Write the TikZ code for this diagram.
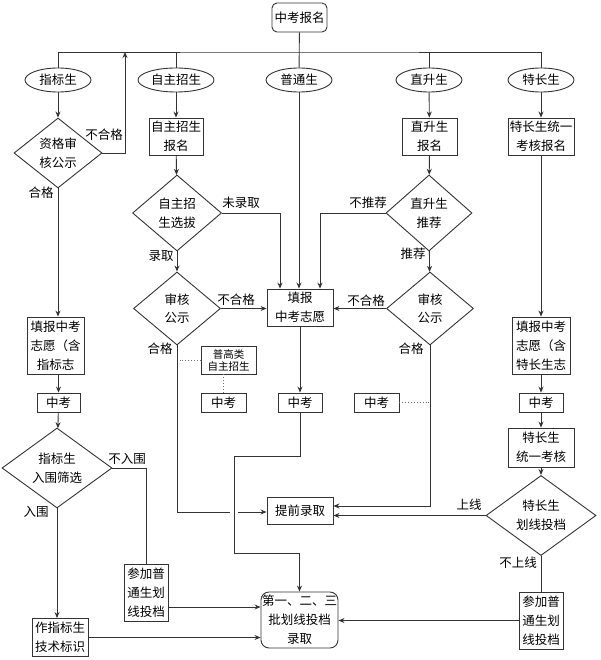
\documentclass[tikz,border=0pt]{standalone}
\usepackage{fontspec}
\setmainfont{Noto Sans CJK SC}
\usetikzlibrary{arrows.meta, positioning, calc, shapes.geometric}
\usepackage{xcolor}
\definecolor{ink}{HTML}{333333}

\begin{document}
\begin{tikzpicture}[
    x=1pt, y=-1pt,
    >={Stealth[length=6pt, width=5pt]},
    wh/.style 2 args={minimum width=#1pt, minimum height=#2pt},
    box/.style={draw=ink, line width=0.9pt, inner sep=0pt, align=center,
                font=\fontsize{12.5}{19}\selectfont},
    start/.style={box, rounded corners=5pt},
    small/.style={box, font=\fontsize{10.5}{12}\selectfont},
    kind/.style={draw=ink, line width=0.9pt, ellipse, inner sep=0pt,
                 font=\fontsize{12.5}{15}\selectfont},
    check/.style={draw=ink, line width=0.9pt, diamond, inner sep=0pt, align=center,
                  font=\fontsize{12.5}{18.5}\selectfont},
    arrow/.style={->, line width=0.9pt, color=ink},
    link/.style={line width=0.9pt, color=ink},
    hint/.style={dotted, line width=0.9pt, color=ink!70},
    note/.style={font=\fontsize{12.5}{15}\selectfont},
]
    \useasboundingbox (0,0) rectangle (600,660);

    \node[start, wh={55}{29}] (apply) at (299.5,17.5) {中考报名};

    % Kinds of students
    \node[kind, wh={66}{24}] (quota) at (58,80) {指标生};
    \node[kind, wh={76}{24}] (self) at (176,80) {自主招生};
    \node[kind, wh={66}{24}] (normal) at (299,80) {普通生};
    \node[kind, wh={66}{24}] (direct) at (429,80) {直升生};
    \node[kind, wh={66}{24}] (talent) at (541,80) {特长生};

    \coordinate (bar) at (299,52);
    \coordinate (ret) at (125,52);
    \draw[link] (apply) -- (normal);
    \draw[link] (quota.north) |- (bar) -| (talent.north);
    \draw[link] (self.north) -- (self.north |- bar);
    \draw[link] (direct.north) -- (direct.north |- bar);

    % Quota column
    \node[check, wh={88}{70}] (qcheck) at (58,153) {资格审\\核公示};
    \node[box, wh={57}{57}] (qwish) at (55.5,345.5) {填报中考\\志愿（含\\指标志};
    \node[box, wh={43}{19}] (qexam) at (58.5,402.5) {中考};
    \node[check, wh={110}{76}] (qpick) at (57,468) {指标生\\入围筛选};
    \node[box, wh={44}{57}] (qjoin) at (146,593) {参加普\\通生划\\线投档};
    \node[box, wh={56}{38}] (qmark) at (60,637.5) {作指标生\\技术标识};

    % Self-enrolment column
    \node[box, wh={54}{37}] (sapply) at (176,136.5) {自主招生\\报名};
    \node[check, wh={89}{76}] (spick) at (177,213) {自主招\\生选拔};
    \node[check, wh={87}{73}] (scheck) at (177,308.5) {审核\\公示};
    \node[small, wh={55}{28}] (sclass) at (228.5,360) {普高类\\自主招生};
    \node[box, wh={45}{19}] (sexam) at (223.5,402.5) {中考};

    % Normal column
    \node[box, wh={66}{37}] (wish) at (300,307.5) {填报\\中考志愿};
    \node[box, wh={44}{19}] (exam) at (300,402.5) {中考};
    \node[box, wh={66}{27}] (early) at (300,510.5) {提前录取};
    \node[box, rounded corners=8pt, wh={77}{56}] (final) at (299.5,620) {第一、二、三\\批划线投档\\录取};

    % Direct column
    \node[box, wh={55}{37}] (dapply) at (429.5,136.5) {直升生\\报名};
    \node[check, wh={86}{76}] (dpick) at (429,213) {直升生\\推荐};
    \node[check, wh={87}{73}] (dcheck) at (430,308.5) {审核\\公示};
    \node[box, wh={45}{19}] (dexam) at (376.5,402.5) {中考};

    % Talent column
    \node[box, wh={66}{37}] (tapply) at (541,136.5) {特长生统一\\考核报名};
    \node[box, wh={58}{57}] (twish) at (541,345.5) {填报中考\\志愿（含\\特长生志};
    \node[box, wh={44}{19}] (texam) at (541,402.5) {中考};
    \node[box, wh={66}{39}] (ttest) at (541,447.5) {特长生\\统一考核};
    \node[check, wh={110}{75}] (tline) at (541,515.5) {特长生\\划线投档};
    \node[box, wh={44}{57}] (tjoin) at (541,620.5) {参加普\\通生划\\线投档};

    % Quota connectors
    \draw[arrow] (quota) -- (qcheck);
    \draw[arrow] (qcheck.east) -| (ret);
    \draw[arrow] (qcheck.south) -- (qcheck.south |- qwish.north);
    \draw[arrow] (qwish.south -| qexam) -- (qexam);
    \draw[arrow] (qexam) -- (qpick);
    \draw[link] (qpick.east) -| (qjoin.north);
    \draw[arrow] (qpick.south) -- (qpick.south |- qmark.north);
    \draw[arrow] (qmark.east) -- (qmark.east -| final.west);
    \coordinate (qout) at ($(qjoin.east)+(0,14)$);
    \draw[arrow] (qout) -- (qout -| final.west);

    % Self-enrolment connectors
    \draw[arrow] (self) -- (sapply);
    \draw[arrow] (sapply) -- (spick);
    \draw[arrow] (spick.east) -| ([xshift=-20pt]wish.north);
    \draw[arrow] (spick) -- (scheck);
    \draw[arrow] (scheck.east) -- (wish.west |- scheck.east);
    \coordinate (gapl) at (230,512);
    \coordinate (gapr) at (238,512);
    \draw[link] (scheck.south) |- (gapl);
    \draw[arrow] (gapr) -- (early.west |- gapr);
    \draw[hint] (sclass.west) -- ([xshift=3pt]sclass.west -| scheck.south);
    \draw[hint] (sexam.north) -- (sexam.north |- sclass.south);

    % Normal connectors
    \draw[arrow] (normal) -- (normal |- wish.north);
    \draw[arrow] (wish) -- (exam);
    \coordinate (j1) at (234,456);
    \coordinate (j2) at (234,553);
    \draw[arrow] (exam.south) |- (j1) -- (j2) -| (final.north);

    % Direct connectors
    \draw[arrow] (direct) -- (dapply);
    \draw[arrow] (dapply) -- (dpick);
    \draw[arrow] (dpick.west) -| ([xshift=20pt]wish.north);
    \draw[arrow] (dpick) -- (dcheck);
    \draw[arrow] (dcheck.west) -- (wish.east |- dcheck.west);
    \draw[arrow] (dcheck.south) |- ([yshift=4.5pt]early.east);
    \draw[hint] (dexam.east) -- (dexam.east -| dcheck.south);

    % Talent connectors
    \draw[arrow] (talent) -- (tapply);
    \draw[arrow] (tapply) -- (twish);
    \draw[arrow] (twish) -- (texam);
    \draw[arrow] (texam) -- (ttest);
    \draw[arrow] (ttest) -- (tline);
    \draw[arrow] (tline.west) -- (tline.west -| early.east);
    \draw[link] (tline.south) -- (tjoin.north);
    \draw[arrow] (tjoin.west) -- (tjoin.west -| final.east);

    % Labels
    \node[note] (n1) at (104,135) {不合格};
    \node[note] (n2) at (41,193) {合格};
    \node[note] (n3) at (127,459) {不入围};
    \node[note] (n4) at (36,512) {入围};
    \node[note] (n5) at (241,203) {未录取};
    \node[note] (n6) at (161,256) {录取};
    \node[note] (n7) at (236,300) {不合格};
    \node[note] (n8) at (160,349) {合格};
    \node[note] (n9) at (368,203) {不推荐};
    \node[note] (n10) at (413,254) {推荐};
    \node[note] (n11) at (366,301) {不合格};
    \node[note] (n12) at (411,349) {合格};
    \node[note] (n13) at (469,505) {上线};
    \node[note] (n14) at (518,563) {不上线};
\end{tikzpicture}
\end{document}
